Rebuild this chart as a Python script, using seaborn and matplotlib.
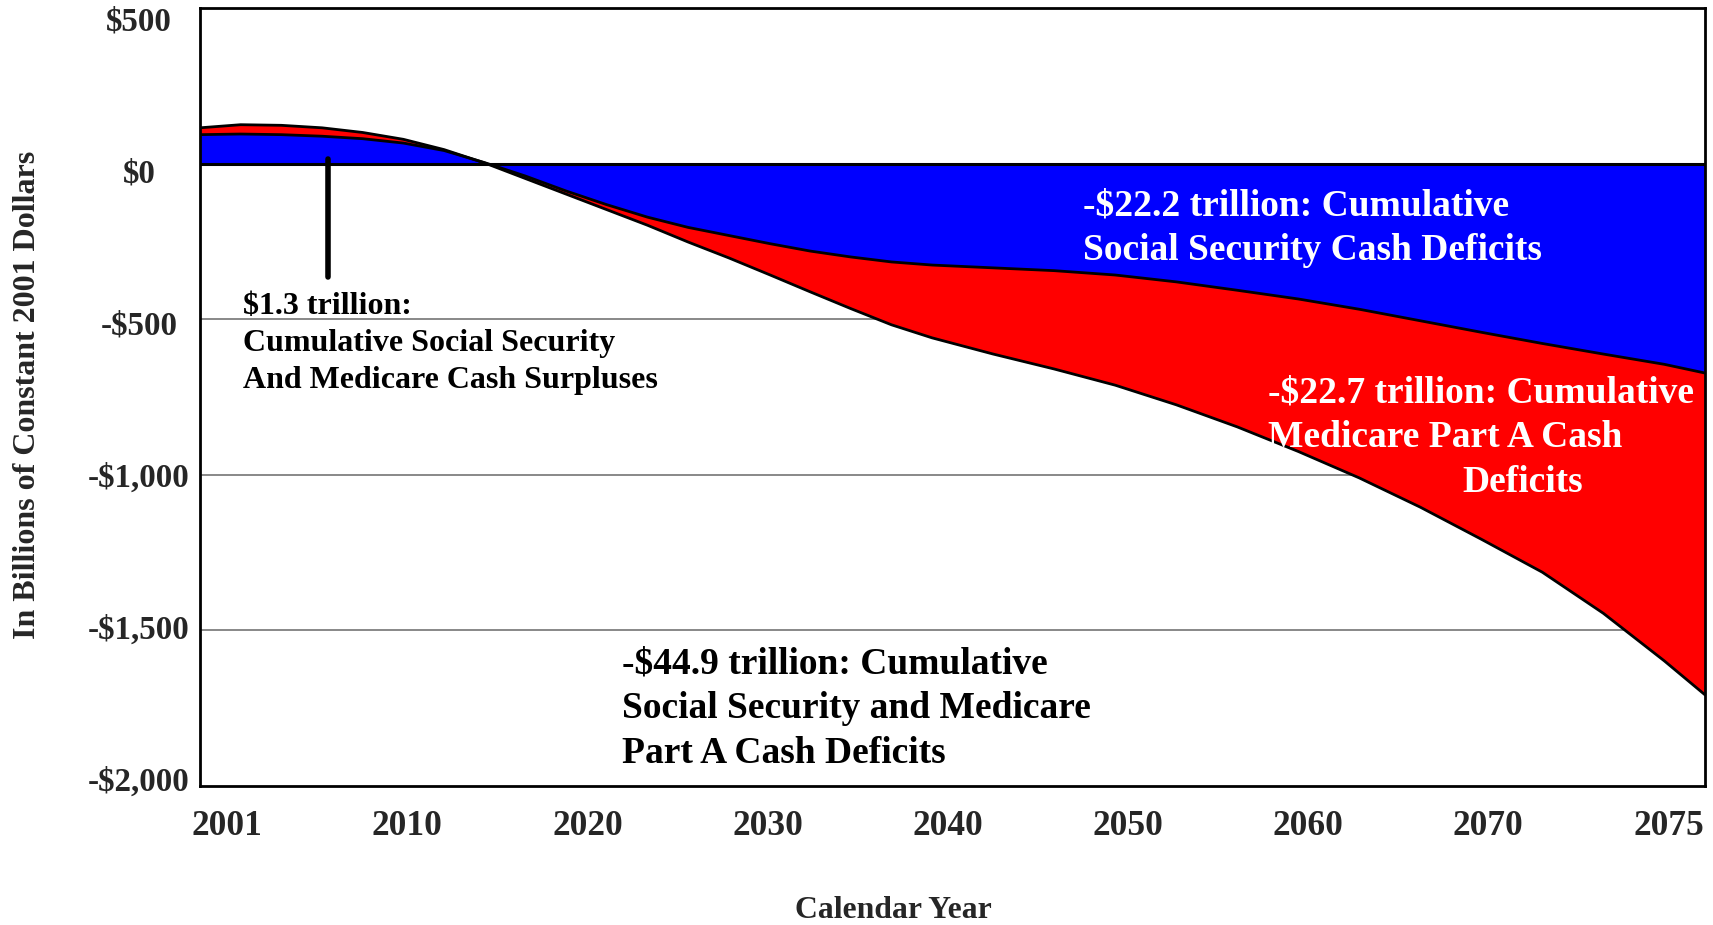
import numpy as np
import pandas as pd
import matplotlib
matplotlib.use('Agg')
import matplotlib.pyplot as plt
import seaborn as sns


# values, billions of constant 2001 dollars
years = [2001, 2003, 2005, 2007, 2009, 2011, 2013, 2015, 2017, 2019, 2021, 2023,
         2025, 2027, 2029, 2031, 2033, 2035, 2037, 2040, 2043, 2046, 2049, 2052,
         2055, 2058, 2061, 2064, 2067, 2070, 2073, 2075]
social_security = [93, 95, 93, 88, 80, 66, 42, 3, -40, -88, -132, -172,
                   -205, -231, -257, -281, -300, -316, -326, -335, -344, -358, -380, -407,
                   -435, -468, -505, -542, -578, -612, -645, -673]
combined = [115, 125, 123, 115, 100, 78, 45, 2, -48, -98, -148, -198,
            -252, -303, -357, -412, -466, -518, -560, -612, -660, -712, -775, -846,
            -925, -1010, -1104, -1207, -1313, -1445, -1598, -1707]

ytick_labels = ['$500', '$0', '-$500', '-$1,000', '-$1,500', '-$2,000']
xtick_labels = ['2001', '2010', '2020', '2030', '2040', '2050', '2060', '2070', '2075']

df = pd.DataFrame({'year': years, 'ss': social_security, 'total': combined})

sns.set_style('white')
plt.rcParams['font.family'] = ['Liberation Serif', 'DejaVu Serif']
plt.rcParams['font.weight'] = 'bold'

fig = plt.figure(figsize=(17.13, 9.25), dpi=100)
ax = fig.add_axes([200 / 1713, 1 - 786 / 925, 1505 / 1713, 778 / 925])

# grid lines
for v in [-500, -1000, -1500]:
    ax.axhline(v, color='#7f7f7f', lw=1.3, zorder=0)

ax.fill_between(df['year'], 0, df['ss'], color='#0000ff', lw=0, zorder=1)
ax.fill_between(df['year'], df['ss'], df['total'], color='#ff0000', lw=0, zorder=1)

sns.lineplot(data=df, x='year', y='ss', color='black', lw=2, ax=ax, zorder=3)
sns.lineplot(data=df, x='year', y='total', color='black', lw=2, ax=ax, zorder=3)
ax.axhline(0, color='black', lw=2.2, zorder=4)

ax.set_xlim(2001, 2075)
ax.set_ylim(-2000, 500)

# labels in the original are spread a bit evenly, not exactly on the years / gridlines
ax.set_xticks(np.linspace(2002.33, 2073.2, len(xtick_labels)))
ax.set_xticklabels(xtick_labels, fontsize=25.5, fontweight='bold')
ax.set_yticks(np.linspace(465, -1976, len(ytick_labels)))
ax.set_yticklabels(ytick_labels, fontsize=23.8, fontweight='bold', ha='center')
ax.tick_params(axis='y', length=0, pad=44)
ax.tick_params(axis='x', length=0, pad=17)
ax.set_xlabel('')
ax.set_ylabel('')

for s in ax.spines.values():
    s.set_color('black')
    s.set_linewidth(2)

# pointer to the surplus area
ax.plot([2007.3, 2007.3], [15, -365], color='black', lw=4, zorder=5)

ax.text(2003.1, -720, '$1.3 trillion:\nCumulative Social Security\nAnd Medicare Cash Surpluses',
        fontsize=23, fontweight='bold', color='black', va='baseline', ha='left', linespacing=1.36)
ax.text(2044.4, -309, '-$22.2 trillion: Cumulative\nSocial Security Cash Deficits',
        fontsize=27, fontweight='bold', color='white', va='baseline', ha='left', linespacing=1.36)
ax.text(2053.5, -910, '-$22.7 trillion: Cumulative\nMedicare Part A Cash',
        fontsize=27, fontweight='bold', color='white', va='baseline', ha='left', linespacing=1.36)
ax.text(2063.05, -1055, 'Deficits',
        fontsize=27, fontweight='bold', color='white', va='baseline', ha='left')
ax.text(2021.75, -1926, '-$44.9 trillion: Cumulative\nSocial Security and Medicare\nPart A Cash Deficits',
        fontsize=27, fontweight='bold', color='black', va='baseline', ha='left', linespacing=1.36)

fig.text(28 / 1713, 1 - 395 / 925, 'In Billions of Constant 2001 Dollars', rotation=90,
         fontsize=23, fontweight='bold', ha='center', va='center')
fig.text(893 / 1713, 1 - 910 / 925, 'Calendar Year',
         fontsize=22.9, fontweight='bold', ha='center', va='center')

fig.savefig('out.png', dpi=100)
